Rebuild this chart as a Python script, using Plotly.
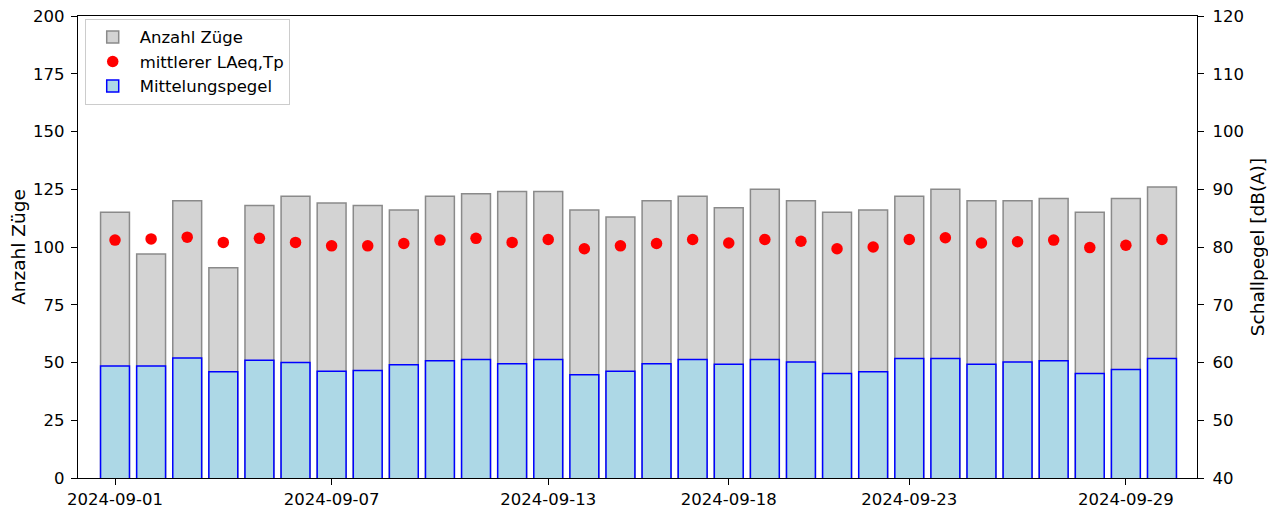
import plotly.graph_objects as go
import pandas as pd

dates = pd.date_range("2024-09-01", "2024-09-30", freq="D")
anzahl_zuege = [115, 97, 120, 91, 118, 122, 119, 118, 116, 122,
                123, 124, 124, 116, 113, 120, 122, 117, 125, 120,
                115, 116, 122, 125, 120, 120, 121, 115, 121, 126]
mittelungspegel = [59.4, 59.4, 60.8, 58.4, 60.4, 60.0, 58.5, 58.6, 59.6, 60.3,
                   60.5, 59.8, 60.5, 57.9, 58.5, 59.8, 60.5, 59.7, 60.5, 60.1,
                   58.1, 58.4, 60.7, 60.7, 59.7, 60.1, 60.3, 58.1, 58.8, 60.7]
laeq_tp = [81.2, 81.4, 81.7, 80.8, 81.5, 80.8, 80.2, 80.2, 80.6, 81.2,
           81.5, 80.8, 81.3, 79.7, 80.2, 80.6, 81.3, 80.7, 81.3, 81.0,
           79.7, 80.0, 81.3, 81.6, 80.7, 80.9, 81.2, 79.9, 80.3, 81.3]
tick_dates = ["2024-09-01", "2024-09-07", "2024-09-13", "2024-09-18", "2024-09-23", "2024-09-29"]

FONT = "DejaVu Sans"
TICK = 16.5
day_ms = 86400000
bar_w = 0.8 * day_ms

fig = go.Figure()
fig.add_trace(go.Bar(
    x=dates, y=anzahl_zuege, name="Anzahl Züge", width=bar_w,
    marker=dict(color="#d3d3d3", line=dict(color="#8a8a8a", width=1.5)),
    yaxis="y", offsetgroup="a",
))
fig.add_trace(go.Scatter(
    x=dates, y=laeq_tp, name="mittlerer LAeq,Tp", mode="markers",
    marker=dict(color="red", size=11.5), yaxis="y2",
))
fig.add_trace(go.Bar(
    x=dates, y=mittelungspegel, name="Mittelungspegel", width=bar_w,
    marker=dict(color="#add8e6", line=dict(color="blue", width=1.5)),
    yaxis="y2", offsetgroup="a",
))

axis_common = dict(
    showgrid=False, zeroline=False, showline=True, linecolor="black", linewidth=1.2,
    ticks="outside", ticklen=6, tickcolor="black", tickwidth=1.2,
    tickfont=dict(family=FONT, size=TICK, color="black"),
    automargin=False, ticklabeloverflow="allow",
)

# page body has an 8px offset; compensate so the plot area lands at x 78..1197, y 16..478
fig.update_layout(
    width=1268, height=501,
    margin=dict(l=70, r=79, t=8, b=31),
    paper_bgcolor="white", plot_bgcolor="white",
    barmode="overlay",
    font=dict(family=FONT, color="black"),
    xaxis=dict(
        **axis_common, mirror=True, type="date",
        range=["2024-08-30 23:24", "2024-09-30 23:17"],
        tickvals=tick_dates, ticktext=tick_dates,
    ),
    yaxis=dict(
        **axis_common, range=[0, 200], tickvals=list(range(0, 201, 25)),
        ticklabelstandoff=3,
        title=dict(text="Anzahl Züge", font=dict(family=FONT, size=18.5), standoff=8),
    ),
    yaxis2=dict(
        **axis_common, overlaying="y", side="right", range=[40, 120],
        tickvals=list(range(40, 121, 10)), ticklabelstandoff=5,
        title=dict(text="Schallpegel [dB(A)]", font=dict(family=FONT, size=18.5), standoff=8),
    ),
    legend=dict(
        x=0.006, y=0.994, xanchor="left", yanchor="top",
        bgcolor="rgba(255,255,255,0.8)", bordercolor="#cccccc", borderwidth=1,
        font=dict(family=FONT, size=TICK, color="black"),
        traceorder="normal", itemwidth=44, tracegroupgap=0,
    ),
    showlegend=True,
)

fig.write_html("out.html")
